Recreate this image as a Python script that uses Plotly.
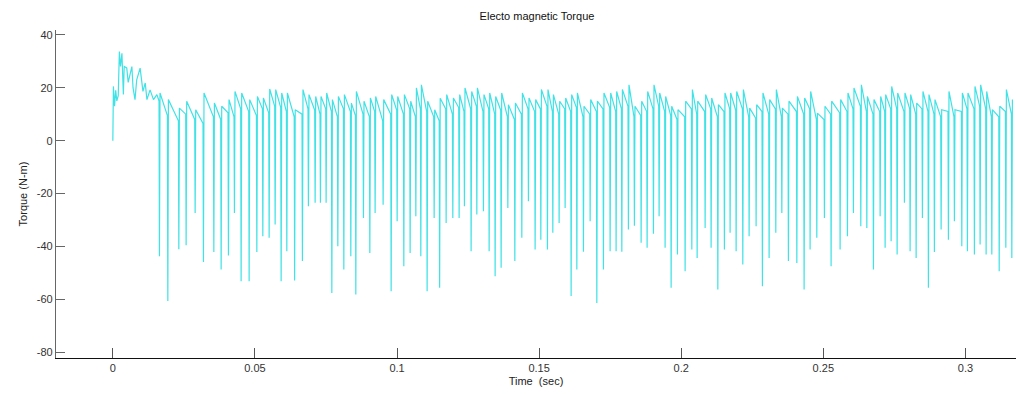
import plotly.graph_objects as go

# ---- data ----
# start-up transient (time in s, torque in N-m)
init_t = [0.0, 0.0002, 0.0006, 0.0010, 0.0014, 0.0019, 0.0023, 0.0027, 0.0032, 0.0037,
          0.0040, 0.0049, 0.0054, 0.0067, 0.0071, 0.0078, 0.0084, 0.0096, 0.0106, 0.0114,
          0.0120, 0.0131, 0.0143, 0.0155]
init_v = [0.0, 20.5, 13.0, 19.0, 15.0, 17.0, 33.7, 28.0, 33.0, 17.4,
          28.0, 27.5, 22.0, 28.0, 20.0, 15.5, 23.0, 27.4, 18.6, 21.8,
          15.5, 19.2, 15.5, 17.4]

# times of the negative torque spikes
spike_t = [0.01640, 0.01935, 0.02322, 0.02579, 0.02896, 0.03188, 0.03554, 0.03811, 0.04068, 0.04279,
           0.04514, 0.04796, 0.05067, 0.05278, 0.05500, 0.05711, 0.05922, 0.06122, 0.06397, 0.06671,
           0.06882, 0.07118, 0.07305, 0.07505, 0.07706, 0.07917, 0.08128, 0.08374, 0.08550, 0.08818,
           0.09043, 0.09229, 0.09511, 0.09793, 0.10004, 0.10239, 0.10461, 0.10662, 0.10837, 0.11059,
           0.11306, 0.11499, 0.11728, 0.11963, 0.12185, 0.12372, 0.12607, 0.12808, 0.13040, 0.13241,
           0.13452, 0.13663, 0.13899, 0.14145, 0.14391, 0.14624, 0.14859, 0.15060, 0.15292, 0.15482,
           0.15704, 0.15915, 0.16126, 0.16327, 0.16559, 0.16795, 0.17030, 0.17262, 0.17498, 0.17709,
           0.17910, 0.18142, 0.18353, 0.18589, 0.18800, 0.19022, 0.19222, 0.19433, 0.19645, 0.19866,
           0.20137, 0.20373, 0.20560, 0.20841, 0.21052, 0.21288, 0.21520, 0.21720, 0.21932, 0.22167,
           0.22389, 0.22635, 0.22857, 0.23093, 0.23328, 0.23540, 0.23772, 0.24068, 0.24324, 0.24535,
           0.24771, 0.25039, 0.25274, 0.25591, 0.25848, 0.26059, 0.26319, 0.26531, 0.26763, 0.26999,
           0.27175, 0.27386, 0.27597, 0.27854, 0.28054, 0.28266, 0.28487, 0.28698, 0.28909, 0.29145,
           0.29402, 0.29613, 0.29873, 0.30070, 0.30317, 0.30517, 0.30729, 0.30929, 0.31189, 0.31422,
           0.31633]
# minimum torque of each spike
spike_min = [-43.7, -60.6, -41.0, -39.5, -27.3, -45.8, -42.1, -48.7, -43.4, -27.3,
             -53.1, -53.1, -42.1, -36.1, -36.7, -31.7, -53.1, -41.8, -52.8, -45.5,
             -24.8, -23.5, -23.5, -23.5, -57.5, -39.9, -48.7, -43.7, -58.1, -29.2,
             -42.4, -27.3, -24.2, -56.9, -30.4, -47.4, -42.4, -28.6, -43.7, -56.9,
             -29.2, -55.6, -31.1, -29.2, -29.2, -24.8, -41.8, -27.9, -26.7, -41.8,
             -51.2, -48.0, -25.4, -45.5, -36.7, -22.9, -41.1, -37.4, -41.1, -34.8,
             -31.1, -25.4, -58.7, -48.7, -42.0, -30.4, -61.3, -48.7, -41.8, -41.8,
             -42.0, -33.6, -32.1, -38.6, -40.5, -35.2, -28.6, -40.5, -55.6, -43.0,
             -49.3, -41.1, -44.3, -33.0, -40.5, -56.2, -41.1, -34.8, -41.8, -46.8,
             -36.1, -32.3, -55.0, -44.3, -34.8, -27.3, -45.5, -46.2, -56.2, -41.1,
             -36.7, -29.2, -47.4, -41.1, -36.1, -27.3, -32.3, -33.0, -48.7, -28.6,
             -40.5, -38.0, -43.0, -23.5, -41.8, -44.3, -29.2, -55.6, -42.1, -33.6,
             -37.4, -30.4, -39.9, -41.8, -43.0, -39.2, -43.0, -43.0, -49.3, -40.5,
             -44.3]
# torque peak reached right after each spike
spike_peak = [18.0, 15.5, 12.3, 14.9, 11.7, 18.0, 14.2, 13.0, 15.5, 18.6,
              18.0, 15.5, 16.7, 16.1, 19.5, 19.3, 18.0, 18.0, 11.7, 19.3,
              17.4, 16.7, 16.7, 18.0, 15.5, 16.7, 17.4, 14.2, 18.6, 14.9,
              16.1, 16.7, 15.5, 17.4, 16.7, 17.4, 14.9, 19.9, 21.1, 14.9,
              11.7, 16.0, 17.4, 16.1, 17.4, 19.9, 18.6, 19.9, 17.4, 18.0,
              16.7, 18.0, 13.6, 14.2, 18.0, 16.1, 15.5, 19.3, 19.3, 17.4,
              14.9, 16.1, 17.4, 18.0, 13.0, 15.5, 14.9, 18.0, 18.0, 18.6,
              19.3, 21.1, 13.0, 14.9, 18.6, 21.1, 18.0, 16.7, 13.0, 11.7,
              14.9, 19.3, 14.9, 17.4, 16.1, 13.6, 18.0, 18.0, 18.6, 19.3,
              12.3, 13.6, 18.0, 15.5, 19.3, 12.3, 14.9, 16.7, 16.1, 18.6,
              10.4, 13.0, 14.9, 15.5, 18.0, 19.9, 21.1, 16.7, 15.5, 16.7,
              17.4, 20.5, 18.0, 18.0, 17.4, 14.2, 18.6, 17.4, 15.5, 11.7,
              18.6, 11.7, 18.0, 18.0, 20.5, 21.1, 18.6, 11.7, 13.0, 19.3,
              15.5]
# torque level just before each spike
spike_pre = [15.0, 9.5, 7.5, 10.0, 8.0, 6.5, 9.0, 8.0, 10.5, 9.0,
             12.0, 11.0, 9.5, 12.0, 10.5, 13.0, 12.5, 11.0, 9.0, 10.0,
             12.0, 11.5, 10.0, 12.0, 11.0, 9.0, 12.0, 11.0, 9.5, 10.0,
             9.0, 11.0, 7.5, 10.0, 11.5, 10.0, 12.0, 9.0, 12.0, 11.0,
             9.0, 7.5, 12.0, 10.0, 12.5, 11.0, 12.0, 13.0, 11.0, 12.0,
             10.0, 11.5, 9.0, 8.0, 10.0, 12.0, 11.0, 12.0, 13.0, 11.0,
             10.0, 12.0, 11.0, 12.5, 9.0, 10.0, 11.0, 12.0, 12.5, 11.0,
             12.0, 13.0, 9.0, 9.5, 11.0, 12.0, 13.0, 11.0, 9.5, 8.0,
             9.0, 12.0, 10.0, 11.0, 12.0, 9.0, 11.0, 12.0, 11.5, 12.0,
             9.0, 8.5, 11.0, 10.0, 12.0, 9.0, 10.0, 11.0, 10.0, 12.0,
             8.0, 8.0, 10.0, 10.5, 11.0, 12.0, 13.0, 11.0, 10.0, 11.0,
             11.0, 12.0, 12.0, 11.0, 12.0, 10.0, 12.0, 11.0, 10.0, 9.0,
             11.0, 9.0, 11.0, 12.0, 12.0, 13.0, 12.0, 9.0, 9.0, 11.0,
             10.0]

# axis ticks
x_tickvals = [0, 0.05, 0.1, 0.15, 0.2, 0.25, 0.3]
x_ticktext = ["0", "0.05", "0.1", "0.15", "0.2", "0.25", "0.3"]
y_tickvals = [-80, -60, -40, -20, 0, 20, 40]
y_ticktext = ["-80", "-60", "-40", "-20", "0", "20", "40"]

# ---- assemble the trace ----
xs = list(init_t)
ys = list(init_v)
for t, mn, pk, pre in zip(spike_t, spike_min, spike_peak, spike_pre):
    xs += [t - 0.00015, t, t + 0.0002]
    ys += [pre, mn, pk]

fig = go.Figure()
fig.add_trace(go.Scatter(x=xs, y=ys, mode="lines",
                         line=dict(color="#40e2e6", width=1.2), showlegend=False,
                         hoverinfo="skip"))

font_family = "Liberation Sans, Arial, sans-serif"
fig.update_layout(
    width=1016, height=394,
    margin=dict(l=56, r=0, t=30, b=36),
    paper_bgcolor="white", plot_bgcolor="white",
    font=dict(family=font_family, size=11, color="#222"),
    title=dict(text="Electo magnetic Torque", x=537 / 1016, xref="container",
               xanchor="center", y=1 - 16 / 394, yref="container", yanchor="middle",
               font=dict(size=11, color="#111")),
)
fig.update_xaxes(
    range=[-0.02, 0.3178], tickvals=x_tickvals, ticktext=x_ticktext,
    ticks="inside", ticklen=10, tickcolor="#555", tickwidth=1,
    showline=True, linecolor="#111", linewidth=1, mirror=False,
    showgrid=False, zeroline=False,
    tickfont=dict(size=11, color="#333"),
    title=dict(text="Time\u00a0 (sec)", standoff=4, font=dict(size=11, color="#222")),
)
fig.update_yaxes(
    range=[-82.1, 41.8], tickvals=y_tickvals, ticktext=y_ticktext,
    ticks="inside", ticklen=9, tickcolor="#666", tickwidth=1,
    showline=True, linecolor="#666", linewidth=1.3, mirror=False,
    showgrid=False, zeroline=False,
    tickfont=dict(size=11, color="#333"),
    title=dict(text="Torque (N-m)", standoff=6, font=dict(size=11, color="#222")),
)

fig.write_html("out.html")
